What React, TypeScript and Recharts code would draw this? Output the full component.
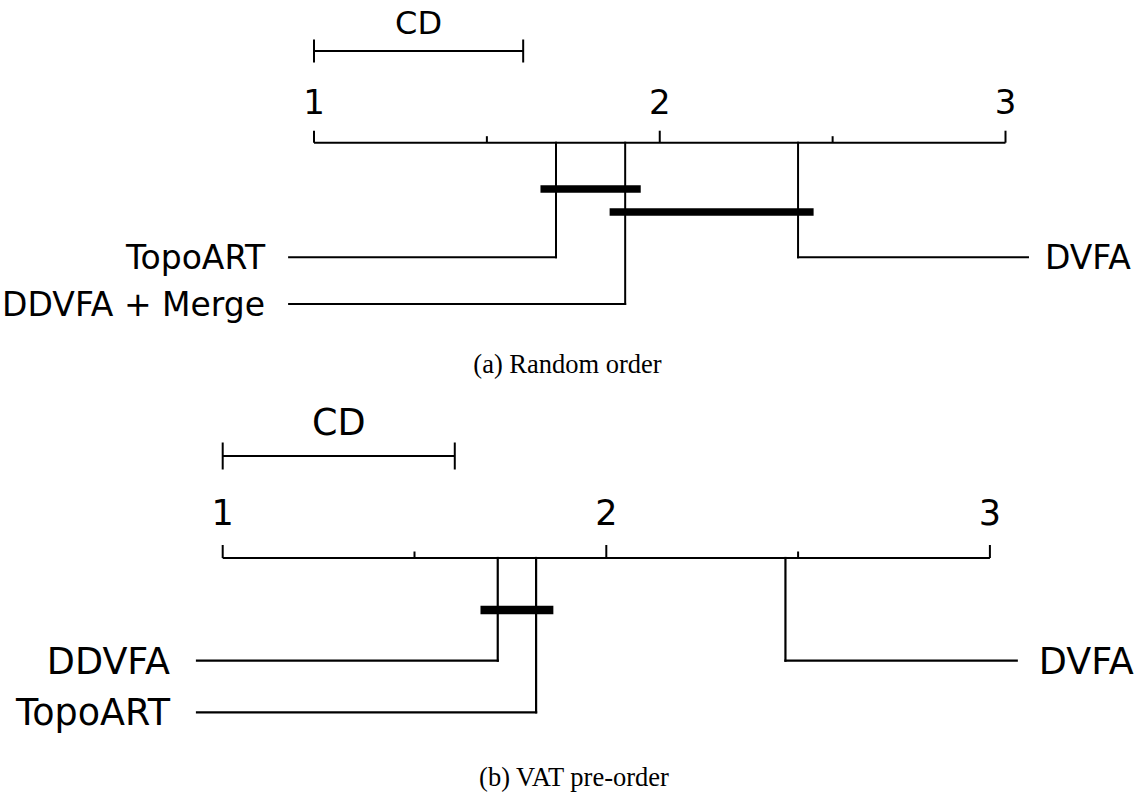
import React from 'react';
import { ComposedChart, XAxis, YAxis, ReferenceLine } from 'recharts';

// Critical difference diagrams (Nemenyi test, average ranks, lower = better)
const rankTicks = [1, 1.5, 2, 2.5, 3];
const criticalDifference = 0.605;

const randomNames = ['TopoART', 'DDVFA + Merge', 'DVFA'];
const randomRanks = [1.7, 1.9, 2.4];
const randomCliques = [[0, 1], [1, 2]];

const vatNames = ['DDVFA', 'TopoART', 'DVFA'];
const vatRanks = [1.717, 1.817, 2.467];
const vatCliques = [[0, 1]];

const FONT = '"DejaVu Sans", sans-serif';
const W = 1148;

interface Layout {
  top: number;
  height: number;
  axisY: number;
  left: number;
  right: number;
  majorTick: number;
  minorTick: number;
  tickLabelGap: number;
  tickFont: number;
  cdY: number;
  cdCap: number;
  cdLabelGap: number;
  cdFont: number;
  cliqueY0: number;
  cliqueStep: number;
  cliqueWidth: number;
  cliqueExt: number;
  rowY0: number;
  rowStep: number;
  lineWidth: number;
  nameFont: number;
  gapLeft: number;
  gapRight: number;
  extLeft: number;
  extRight: number;
}

const layoutA: Layout = {
  top: 0, height: 335, axisY: 142.7, left: 314, right: 142.5,
  majorTick: 12, minorTick: 6.5, tickLabelGap: 28.4, tickFont: 34,
  cdY: -91.7, cdCap: 11.5, cdLabelGap: 17.5, cdFont: 32,
  cliqueY0: 46.3, cliqueStep: 23, cliqueWidth: 7.5, cliqueExt: 0.045,
  rowY0: 114.6, rowStep: 46.7, lineWidth: 2, nameFont: 33,
  gapLeft: 24, gapRight: 17, extLeft: 0.072, extRight: 0.065,
};

const layoutB: Layout = {
  top: 390, height: 360, axisY: 558, left: 222.7, right: 158.1,
  majorTick: 13, minorTick: 6.5, tickLabelGap: 33, tickFont: 35,
  cdY: -102, cdCap: 13.5, cdLabelGap: 21, cdFont: 36.5,
  cliqueY0: 52, cliqueStep: 25.5, cliqueWidth: 8.5, cliqueExt: 0.045,
  rowY0: 102.7, rowStep: 51.6, lineWidth: 2.2, nameFont: 36.5,
  gapLeft: 27, gapRight: 22, extLeft: 0.067, extRight: 0.07,
};

const RankTick = (props: any) => {
  const { x, y, payload, cfg } = props;
  const v = payload.value as number;
  const major = Number.isInteger(v);
  return (
    <g>
      <line x1={x} y1={y} x2={x} y2={y - (major ? cfg.majorTick : cfg.minorTick)} stroke="#000" strokeWidth={2} />
      {major && (
        <text x={x} y={y - cfg.tickLabelGap} textAnchor="middle" fontFamily={FONT} fontSize={cfg.tickFont} fill="#000">
          {v}
        </text>
      )}
    </g>
  );
};

const CDPanel = ({ names, ranks, cliques, cfg }: { names: string[]; ranks: number[]; cliques: number[][]; cfg: Layout }) => {
  const k = names.length;
  const nLeft = Math.ceil(k / 2);
  const axisTop = cfg.axisY - cfg.top;
  const plotH = cfg.height - axisTop;
  const data = names.map((n, i) => ({ name: n, rank: ranks[i] }));
  const lo = rankTicks[0];
  const hi = rankTicks[rankTicks.length - 1];

  return (
    <div style={{ position: 'absolute', left: 0, top: cfg.top }}>
      <ComposedChart width={W} height={cfg.height} data={data} margin={{ top: axisTop - 40, right: cfg.right, bottom: 0, left: cfg.left }}>
        <XAxis
          type="number"
          dataKey="rank"
          orientation="top"
          domain={[lo, hi]}
          allowDataOverflow
          ticks={rankTicks}
          interval={0}
          height={40}
          tickLine={false}
          tickSize={0}
          tickMargin={0}
          axisLine={{ stroke: '#000', strokeWidth: 2 }}
          tick={(p: any) => <RankTick {...p} cfg={cfg} />}
        />
        <YAxis type="number" hide reversed domain={[0, plotH]} allowDataOverflow />

        {/* critical difference bar */}
        <ReferenceLine
          segment={[{ x: lo, y: cfg.cdY }, { x: lo + criticalDifference, y: cfg.cdY }]}
          ifOverflow="visible"
          stroke="#000"
          strokeWidth={2}
          label={{ value: 'CD', position: 'top', offset: cfg.cdLabelGap, fill: '#000', fontSize: cfg.cdFont, fontFamily: FONT }}
        />
        {[lo, lo + criticalDifference].map((x) => (
          <ReferenceLine
            key={`cap-${x}`}
            segment={[{ x, y: cfg.cdY - cfg.cdCap }, { x, y: cfg.cdY + cfg.cdCap }]}
            ifOverflow="visible"
            stroke="#000"
            strokeWidth={2}
          />
        ))}

        {/* method elbows and names */}
        {names.map((name, i) => {
          const r = ranks[i];
          const isLeft = i < nLeft;
          const row = isLeft ? i : k - 1 - i;
          const yRow = cfg.rowY0 + row * cfg.rowStep;
          const xEnd = isLeft ? lo - cfg.extLeft : hi + cfg.extRight;
          return (
            <React.Fragment key={name}>
              <ReferenceLine
                segment={[{ x: r, y: 0 }, { x: r, y: yRow }]}
                ifOverflow="visible"
                stroke="#000"
                strokeWidth={cfg.lineWidth}
                strokeLinecap="square"
              />
              <ReferenceLine
                segment={[{ x: xEnd, y: yRow }, { x: r, y: yRow }]}
                ifOverflow="visible"
                stroke="#000"
                strokeWidth={cfg.lineWidth}
                strokeLinecap="square"
                label={{
                  value: name,
                  position: isLeft ? 'left' : 'right',
                  offset: isLeft ? cfg.gapLeft : cfg.gapRight,
                  fill: '#000',
                  fontSize: cfg.nameFont,
                  fontFamily: FONT,
                }}
              />
            </React.Fragment>
          );
        })}

        {/* groups with no significant difference */}
        {cliques.map(([a, b], j) => {
          const y = cfg.cliqueY0 + j * cfg.cliqueStep;
          return (
            <ReferenceLine
              key={`clique-${j}`}
              segment={[{ x: ranks[a] - cfg.cliqueExt, y }, { x: ranks[b] + cfg.cliqueExt, y }]}
              ifOverflow="visible"
              stroke="#000"
              strokeWidth={cfg.cliqueWidth}
            />
          );
        })}
      </ComposedChart>
    </div>
  );
};

const captionStyle: React.CSSProperties = {
  position: 'absolute',
  width: 400,
  textAlign: 'center',
  fontFamily: '"Liberation Serif", "Times New Roman", serif',
  fontSize: 26.5,
  lineHeight: '26px',
  color: '#000',
  whiteSpace: 'nowrap',
};

export default function App() {
  return (
    <div style={{ position: 'absolute', left: 0, top: 0, width: W, height: 792, background: '#fff', overflow: 'hidden' }}>
      <CDPanel names={randomNames} ranks={randomRanks} cliques={randomCliques} cfg={layoutA} />
      <div style={{ ...captionStyle, left: 567.5 - 200, top: 351 }}>(a) Random order</div>
      <CDPanel names={vatNames} ranks={vatRanks} cliques={vatCliques} cfg={layoutB} />
      <div style={{ ...captionStyle, left: 574 - 200, top: 764 }}>(b) VAT pre-order</div>
    </div>
  );
}
